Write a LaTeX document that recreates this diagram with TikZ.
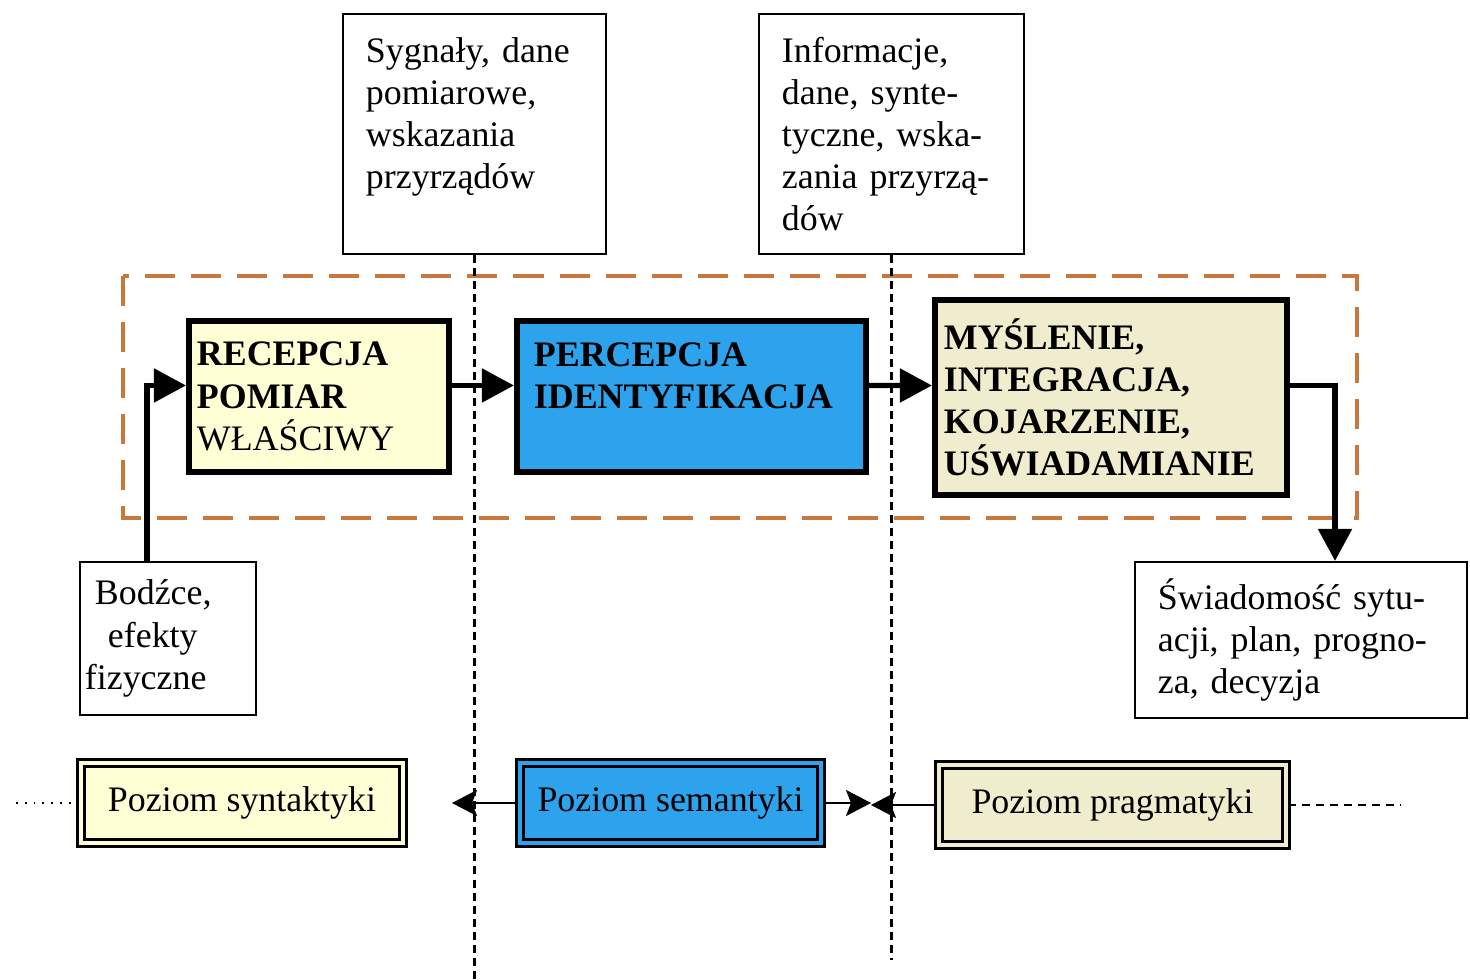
\documentclass[tikz,border=0pt]{standalone}
\usepackage{fontspec}
\setmainfont{Liberation Serif}
\usetikzlibrary{arrows.meta,positioning}
\definecolor{recyellow}{RGB}{255,255,214}
\definecolor{percblue}{RGB}{44,163,236}
\definecolor{myslbeige}{RGB}{240,237,206}
\definecolor{frameorange}{RGB}{200,120,60}

\begin{document}
\begin{tikzpicture}[x=0.01cm, y=-0.01cm,
  every node/.style={font=\fontsize{10.2}{12}\selectfont},
  infobox/.style={draw, line width=0.6pt, fill=white, inner xsep=0.23cm, align=left},
  stagebox/.style={draw, line width=1.7pt, align=left},
  levelbox/.style={draw, line width=0.9pt, double distance=1.1pt, minimum height=0.8cm},
  bigarrow/.style={line width=1.5pt, -{Triangle[length=0.32cm,width=0.33cm]}},
  smallarrow/.style={line width=0.6pt, -{Stealth[length=0.25cm,width=0.26cm,inset=0.05cm]}},
  divider/.style={line width=0.7pt, dash pattern=on 0.08cm off 0.05cm}]
\useasboundingbox (0,0) rectangle (1470,980);

% frame round the three stages
\draw[frameorange, line width=1.4pt, dash pattern=on 0.3cm off 0.16cm] (123,276) rectangle (1357,518);

% upper boxes
\node[infobox, text width=2.17cm, minimum height=2.40cm] (syg) at (474.5,134)
  {Sygnały, dane\\pomiarowe,\\wskazania\\przyrządów\\\mbox{}};
\node[infobox, text width=2.19cm, minimum height=2.40cm] (info) at (891.5,134)
  {Informacje,\\dane, synte-\\tyczne, wska-\\zania przyrzą-\\dów};

% stages
\node[stagebox, fill=recyellow, inner xsep=0.08cm, text width=2.44cm, minimum height=1.51cm] (recep) at (319,396.5)
  {\textbf{RECEPCJA}\\\textbf{POMIAR}\\WŁAŚCIWY};
\node[stagebox, fill=percblue, inner xsep=0.17cm, text width=3.15cm, minimum height=1.51cm] (percep) at (691.5,396.5)
  {\textbf{PERCEPCJA}\\\textbf{IDENTYFIKACJA}\\\mbox{}};
\node[stagebox, fill=myslbeige, inner xsep=0.09cm, text width=3.34cm, minimum height=1.95cm] (mysl) at (1111,397.5)
  {\textbf{MYŚLENIE,}\\\textbf{INTEGRACJA,}\\\textbf{KOJARZENIE,}\\\textbf{UŚWIADAMIANIE}};

% input and output
\node[infobox, inner xsep=0.05cm, text width=1.66cm, minimum height=1.53cm] (bodz) at (168,638.5)
  {\hspace*{0.1cm}Bodźce,\\\hspace*{0.23cm}efekty\\fizyczne};
\node[infobox, text width=2.86cm, minimum height=1.56cm] (swiad) at (1301,640)
  {Świadomość sytu-\\acji, plan, progno-\\za, decyzja};

% levels
\node[levelbox, fill=recyellow, double=recyellow, minimum width=3.22cm] (synt) at (242,803) {Poziom syntaktyki};
\node[levelbox, fill=percblue, double=percblue, minimum width=3.01cm] (sem) at (670.5,803) {Poziom semantyki};
\node[levelbox, fill=myslbeige, double=myslbeige, minimum width=3.47cm] (prag) at (1112.5,805) {Poziom pragmatyki};

% dividers
\coordinate (sygEnd) at (475,980);
\coordinate (infoEnd) at (893,960);
\draw[divider] (syg.south) -- (syg.south |- sygEnd);
\draw[divider] (info.south) -- (info.south |- infoEnd);

% arrows between stages
\draw[bigarrow] ([xshift=-0.21cm]bodz.north) |- ([yshift=0.11cm]recep.west);
\draw[bigarrow] ([yshift=0.11cm]recep.east) -- ([yshift=0.11cm]percep.west);
\draw[bigarrow] ([yshift=0.11cm]percep.east) -- ([yshift=0.12cm]mysl.west);
\draw[bigarrow] ([yshift=0.12cm]mysl.east) -| ([xshift=0.34cm]swiad.north);

% arrows between levels
\coordinate (semtip) at (452,803);
\coordinate (midtip) at (871,804);
\coordinate (leftend) at (12,803);
\coordinate (rightend) at (1400,805);
\draw[smallarrow] (sem.west) -- (sem.west -| semtip);
\draw[smallarrow] (sem.east) -- (sem.east -| midtip);
\draw[smallarrow] (prag.west) -- (prag.west -| midtip);
\draw[line width=0.5pt, dotted] (synt.west) -- (synt.west -| leftend);
\draw[line width=0.6pt, dash pattern=on 0.08cm off 0.06cm] (prag.east) -- (prag.east -| rightend);
\end{tikzpicture}
\end{document}
